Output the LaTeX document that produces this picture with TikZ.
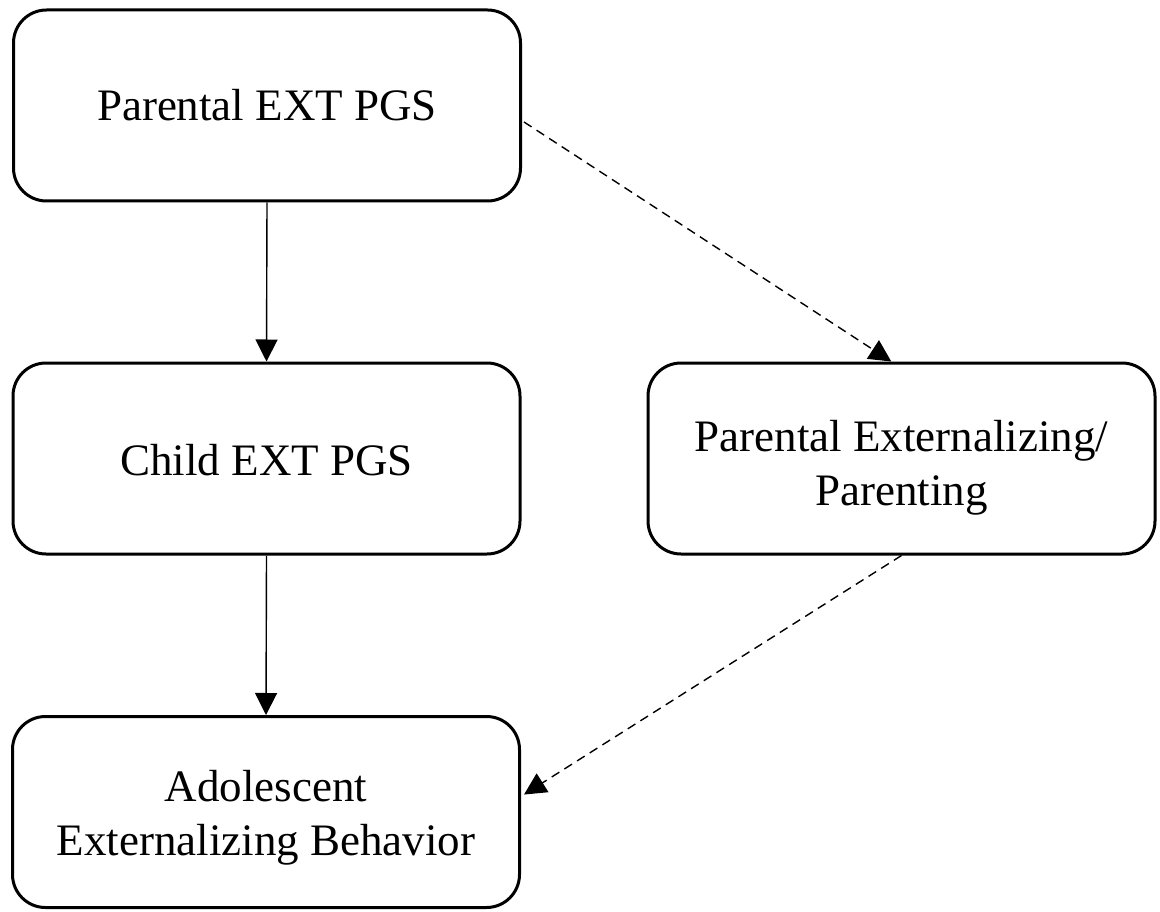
\documentclass[tikz,border=0pt]{standalone}
\usepackage{fontspec}
\setmainfont{Liberation Serif}
\usetikzlibrary{arrows.meta,calc}
\begin{document}
\begin{tikzpicture}[x=1pt,y=-1pt,
  box/.style={draw=black,line width=3pt,rounded corners=33pt,minimum width=507pt,minimum height=191pt,
    align=center,inner sep=0pt,font=\fontsize{45}{54}\selectfont},
  solidarrow/.style={line width=1.4pt,-{Triangle[width=22pt,length=22pt]}},
  dasharrow/.style={line width=1.4pt,dash pattern=on 9pt off 6pt,-{Triangle[width=22pt,length=22pt]}}]
\useasboundingbox (0,0) rectangle (1160,912);
\fill[white] (0,0) rectangle (1160,912);
\node[box] (b1) at (267,105.5) {Parental EXT PGS};
\node[box] (b2) at (266.5,458.5) {\raisebox{-2pt}[\height][\depth]{Child EXT PGS}};
\node[box] (b3) at (266,812) {\raisebox{-6pt}[\height][\depth]{\begin{tabular}{@{}c@{}}Adolescent\\Externalizing Behavior\end{tabular}}};
\node[box] (b4) at (901.5,458.5) {\raisebox{-9pt}[\height][\depth]{\begin{tabular}{@{}c@{}}Parental Externalizing/\\Parenting\end{tabular}}};
\draw[solidarrow] (b1.south) -- (b2.north);
\draw[solidarrow] (b2.south) -- (b3.north);
\coordinate (s1) at ($(b1.north east)!0.585!(b1.south east)+(2,0)$);
\coordinate (e1) at ($(b4.north west)!0.48!(b4.north east)$);
\draw[dasharrow] (s1) -- (e1);
\coordinate (e2) at ($(b3.north east)!0.41!(b3.south east)+(3,0)$);
\draw[dasharrow] (b4.south) -- (e2);
\end{tikzpicture}
\end{document}
